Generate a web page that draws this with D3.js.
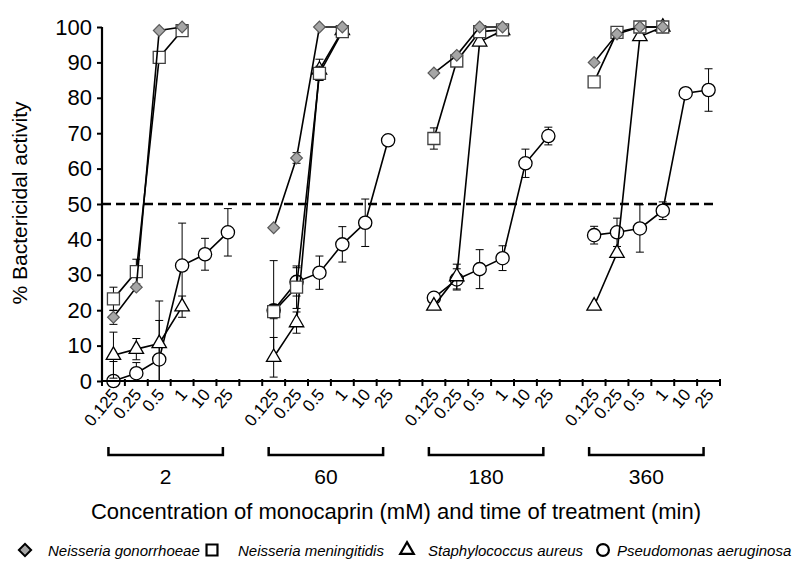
<!DOCTYPE html>
<html><head><meta charset="utf-8">
<script src="https://cdn.jsdelivr.net/npm/d3@7"></script>
<style>body{margin:0;background:#fff;} text{font-family:"Liberation Sans",Arial,sans-serif;fill:#000;}</style>
</head><body><svg id="c" width="799" height="561"></svg>
<script>
const concentrations = ["0.125","0.25","0.5","1","10","25"];
const times = ["2","60","180","360"];
const yTicks = [0,10,20,30,40,50,60,70,80,90,100];
const threshold = 50;
const seriesNames = ["Neisseria gonorrhoeae","Neisseria meningitidis","Staphylococcus aureus","Pseudomonas aeruginosa"];
// values per time group (2, 60, 180, 360 min), per concentration
const gonorrhoeae = [[18,26.5,99,100,null,null],[43.3,63,100,100,null,null],[87,92,100,100,null,null],[90,98,100,100,null,null]];
const gonorrhoeaeErr = [[2,0,0,0,0,0],[0,1.5,0,0,0,0],[0,0,0,0,0,0],[0,0,0,0,0,0]];
const meningitidis = [[23.2,30.9,91.4,99,null,null],[19.6,26.5,86.9,98.7,null,null],[68.5,90.4,98.7,99.2,null,null],[84.5,98.5,100,100,null,null]];
const meningitidisErr = [[3.3,3.5,0,0,0,0],[2,6,2,0,0,0],[3,0,0,0,0,0],[0,0,0,0,0,0]];
const aureus = [[7.3,9,10.6,21,null,null],[6.7,16.5,87.9,99,null,null],[21.2,29.5,95.8,99,null,null],[21.2,36.1,97.3,100,null,null]];
const aureusErr = [[6.5,3,12,3,0,0],[5.6,3,3,0,0,0],[0,3.5,0,0,0,0],[0.5,0,0,0,0,0]];
const aeruginosa = [[0,2.2,6.1,32.6,35.8,42],[20,28,30.6,38.6,44.7,68],[23.5,28.7,31.6,34.7,61.5,69.2],[41.2,42,43.1,48.1,81.3,82.2]];
const aeruginosaErr = [[5.5,3,11,12,4.5,6.7],[14,4,4.7,5,6.7,1.5],[1,3,5.5,3.5,4,2.5],[2.5,4,6.7,2.5,0,6]];

const svg = d3.select("#c");
const font = '"Liberation Sans",Arial,sans-serif';

// slots: 6 per group with a blank slot between groups
const slots = [];
times.forEach((t,gi)=>{
  concentrations.forEach(c=>slots.push(t+"|"+c));
  if (gi < times.length-1) slots.push("gap"+gi);
});
const x = d3.scaleBand().domain(slots).range([102,720]).padding(0);
const y = d3.scaleLinear().domain([0,100]).range([381,27]);
const cx = (t,c)=>x(t+"|"+c)+x.bandwidth()/2;

// threshold dashed line
svg.append("line").attr("x1",x.range()[0]).attr("x2",x.range()[1]-3)
  .attr("y1",y(threshold)).attr("y2",y(threshold))
  .attr("stroke","#000").attr("stroke-width",2.5).attr("stroke-dasharray","9,5");

// series (drawn in reverse legend order)
const series = [
  {name:seriesNames[3], vals:aeruginosa, err:aeruginosaErr, type:"circle"},
  {name:seriesNames[2], vals:aureus, err:aureusErr, type:"triangle"},
  {name:seriesNames[1], vals:meningitidis, err:meningitidisErr, type:"square"},
  {name:seriesNames[0], vals:gonorrhoeae, err:gonorrhoeaeErr, type:"diamond"}
];
function markerPath(type){
  if(type==="circle") return d3.symbol(d3.symbolCircle, 138)();
  if(type==="triangle") return d3.symbol(d3.symbolTriangle, 90)();
  if(type==="square") return d3.symbol(d3.symbolSquare, 144)();
  return d3.symbol(d3.symbolSquare, 68)();
}
function styleMarker(sel,type){
  if(type==="diamond") sel.attr("fill","#a6a6a6").attr("stroke","#595959").attr("stroke-width",1.2);
  else if(type==="square") sel.attr("fill","#fff").attr("stroke","#404040").attr("stroke-width",1.3);
  else sel.attr("fill","#fff").attr("stroke","#000").attr("stroke-width",1.3);
}
const line = d3.line().defined(d=>d.v!==null).x(d=>d.x).y(d=>y(d.v));
const gS = svg.append("g");
series.forEach(s=>{
  const g = gS.append("g");
  times.forEach((t,gi)=>{
    const pts = concentrations.map((c,ci)=>({x:cx(t,c), v:s.vals[gi][ci], e:s.err[gi][ci]}));
    g.append("path").attr("d",line(pts)).attr("fill","none").attr("stroke","#000").attr("stroke-width",1.6);
    pts.filter(p=>p.v!==null && p.e>0).forEach(p=>{
      const y1=y(Math.min(100,p.v+p.e)), y0=y(Math.max(0,p.v-p.e));
      g.append("line").attr("x1",p.x).attr("x2",p.x).attr("y1",y1).attr("y2",y0).attr("stroke","#000").attr("stroke-width",1);
      [y1,y0].forEach(yy=>g.append("line").attr("x1",p.x-4).attr("x2",p.x+4).attr("y1",yy).attr("y2",yy).attr("stroke","#000").attr("stroke-width",1));
    });
  });
  times.forEach((t,gi)=>{
    concentrations.forEach((c,ci)=>{
      const v=s.vals[gi][ci]; if(v===null) return;
      const m=g.append("path").attr("d",markerPath(s.type))
        .attr("transform",`translate(${cx(t,c)},${y(v)})`+(s.type==="diamond"?" rotate(45)":""));
      styleMarker(m,s.type);
    });
  });
});

// axes
const yAxis = svg.append("g").attr("transform",`translate(${x.range()[0]},0)`)
  .call(d3.axisLeft(y).tickValues(yTicks).tickSize(5).tickPadding(5));
yAxis.select(".domain").attr("stroke","#000").attr("stroke-width",2.2).attr("d",`M0,${y(0)}V${y(100)}`);
yAxis.selectAll(".tick line").attr("stroke","#000").attr("stroke-width",2);
yAxis.selectAll(".tick text").attr("font-family",font).attr("font-size",22).attr("fill","#000");

const xAxisG = svg.append("g").attr("transform",`translate(0,${y(0)})`);
xAxisG.append("line").attr("x1",x.range()[0]).attr("x2",x.range()[1]).attr("stroke","#000").attr("stroke-width",2.2);
const bounds = slots.map(s=>x(s)).concat([x.range()[1]]);
xAxisG.selectAll("line.tk").data(bounds).enter().append("line").attr("class","tk")
  .attr("x1",d=>d).attr("x2",d=>d).attr("y1",-2).attr("y2",5).attr("stroke","#000").attr("stroke-width",2);
times.forEach(t=>{
  concentrations.forEach(c=>{
    xAxisG.append("text").attr("transform",`translate(${cx(t,c)+6},${14}) rotate(-50)`)
      .attr("text-anchor","end").attr("font-size",17).attr("font-family",font).text(c);
  });
  const x0=cx(t,concentrations[0])-5, x1=cx(t,concentrations[concentrations.length-1])-5;
  svg.append("path").attr("d",`M${x0},447V455H${x1}V447`).attr("fill","none").attr("stroke","#000").attr("stroke-width",2.5);
  svg.append("text").attr("x",(x0+x1)/2).attr("y",484).attr("text-anchor","middle").attr("font-size",21).text(t);
});

// axis titles
svg.append("text").attr("x",396).attr("y",519).attr("text-anchor","middle").attr("font-size",22)
  .text("Concentration of monocaprin (mM) and time of treatment (min)");
svg.append("text").attr("transform","translate(27,203) rotate(-90)").attr("text-anchor","middle").attr("font-size",21)
  .text("% Bactericidal activity");

// legend
const legendPos = [{mx:25,tx:48},{mx:212,tx:238},{mx:407,tx:428},{mx:603,tx:617}];
const legendTypes = ["diamond","square","triangle","circle"];
legendTypes.forEach((tp,i)=>{
  const m = svg.append("path").attr("d",tp==="circle"?d3.symbol(d3.symbolCircle,110)():tp==="triangle"?d3.symbol(d3.symbolTriangle,80)():tp==="square"?d3.symbol(d3.symbolSquare,120)():d3.symbol(d3.symbolSquare,75)())
    .attr("transform",`translate(${legendPos[i].mx},550)`+(tp==="diamond"?" rotate(45)":""));
  if(tp==="diamond") m.attr("fill","#a6a6a6").attr("stroke","#000").attr("stroke-width",2);
  else m.attr("fill","#fff").attr("stroke","#000").attr("stroke-width",2.2);
  svg.append("text").attr("x",legendPos[i].tx).attr("y",555.5).attr("font-size",15).attr("font-style","italic").text(seriesNames[i]);
});
</script></body></html>
